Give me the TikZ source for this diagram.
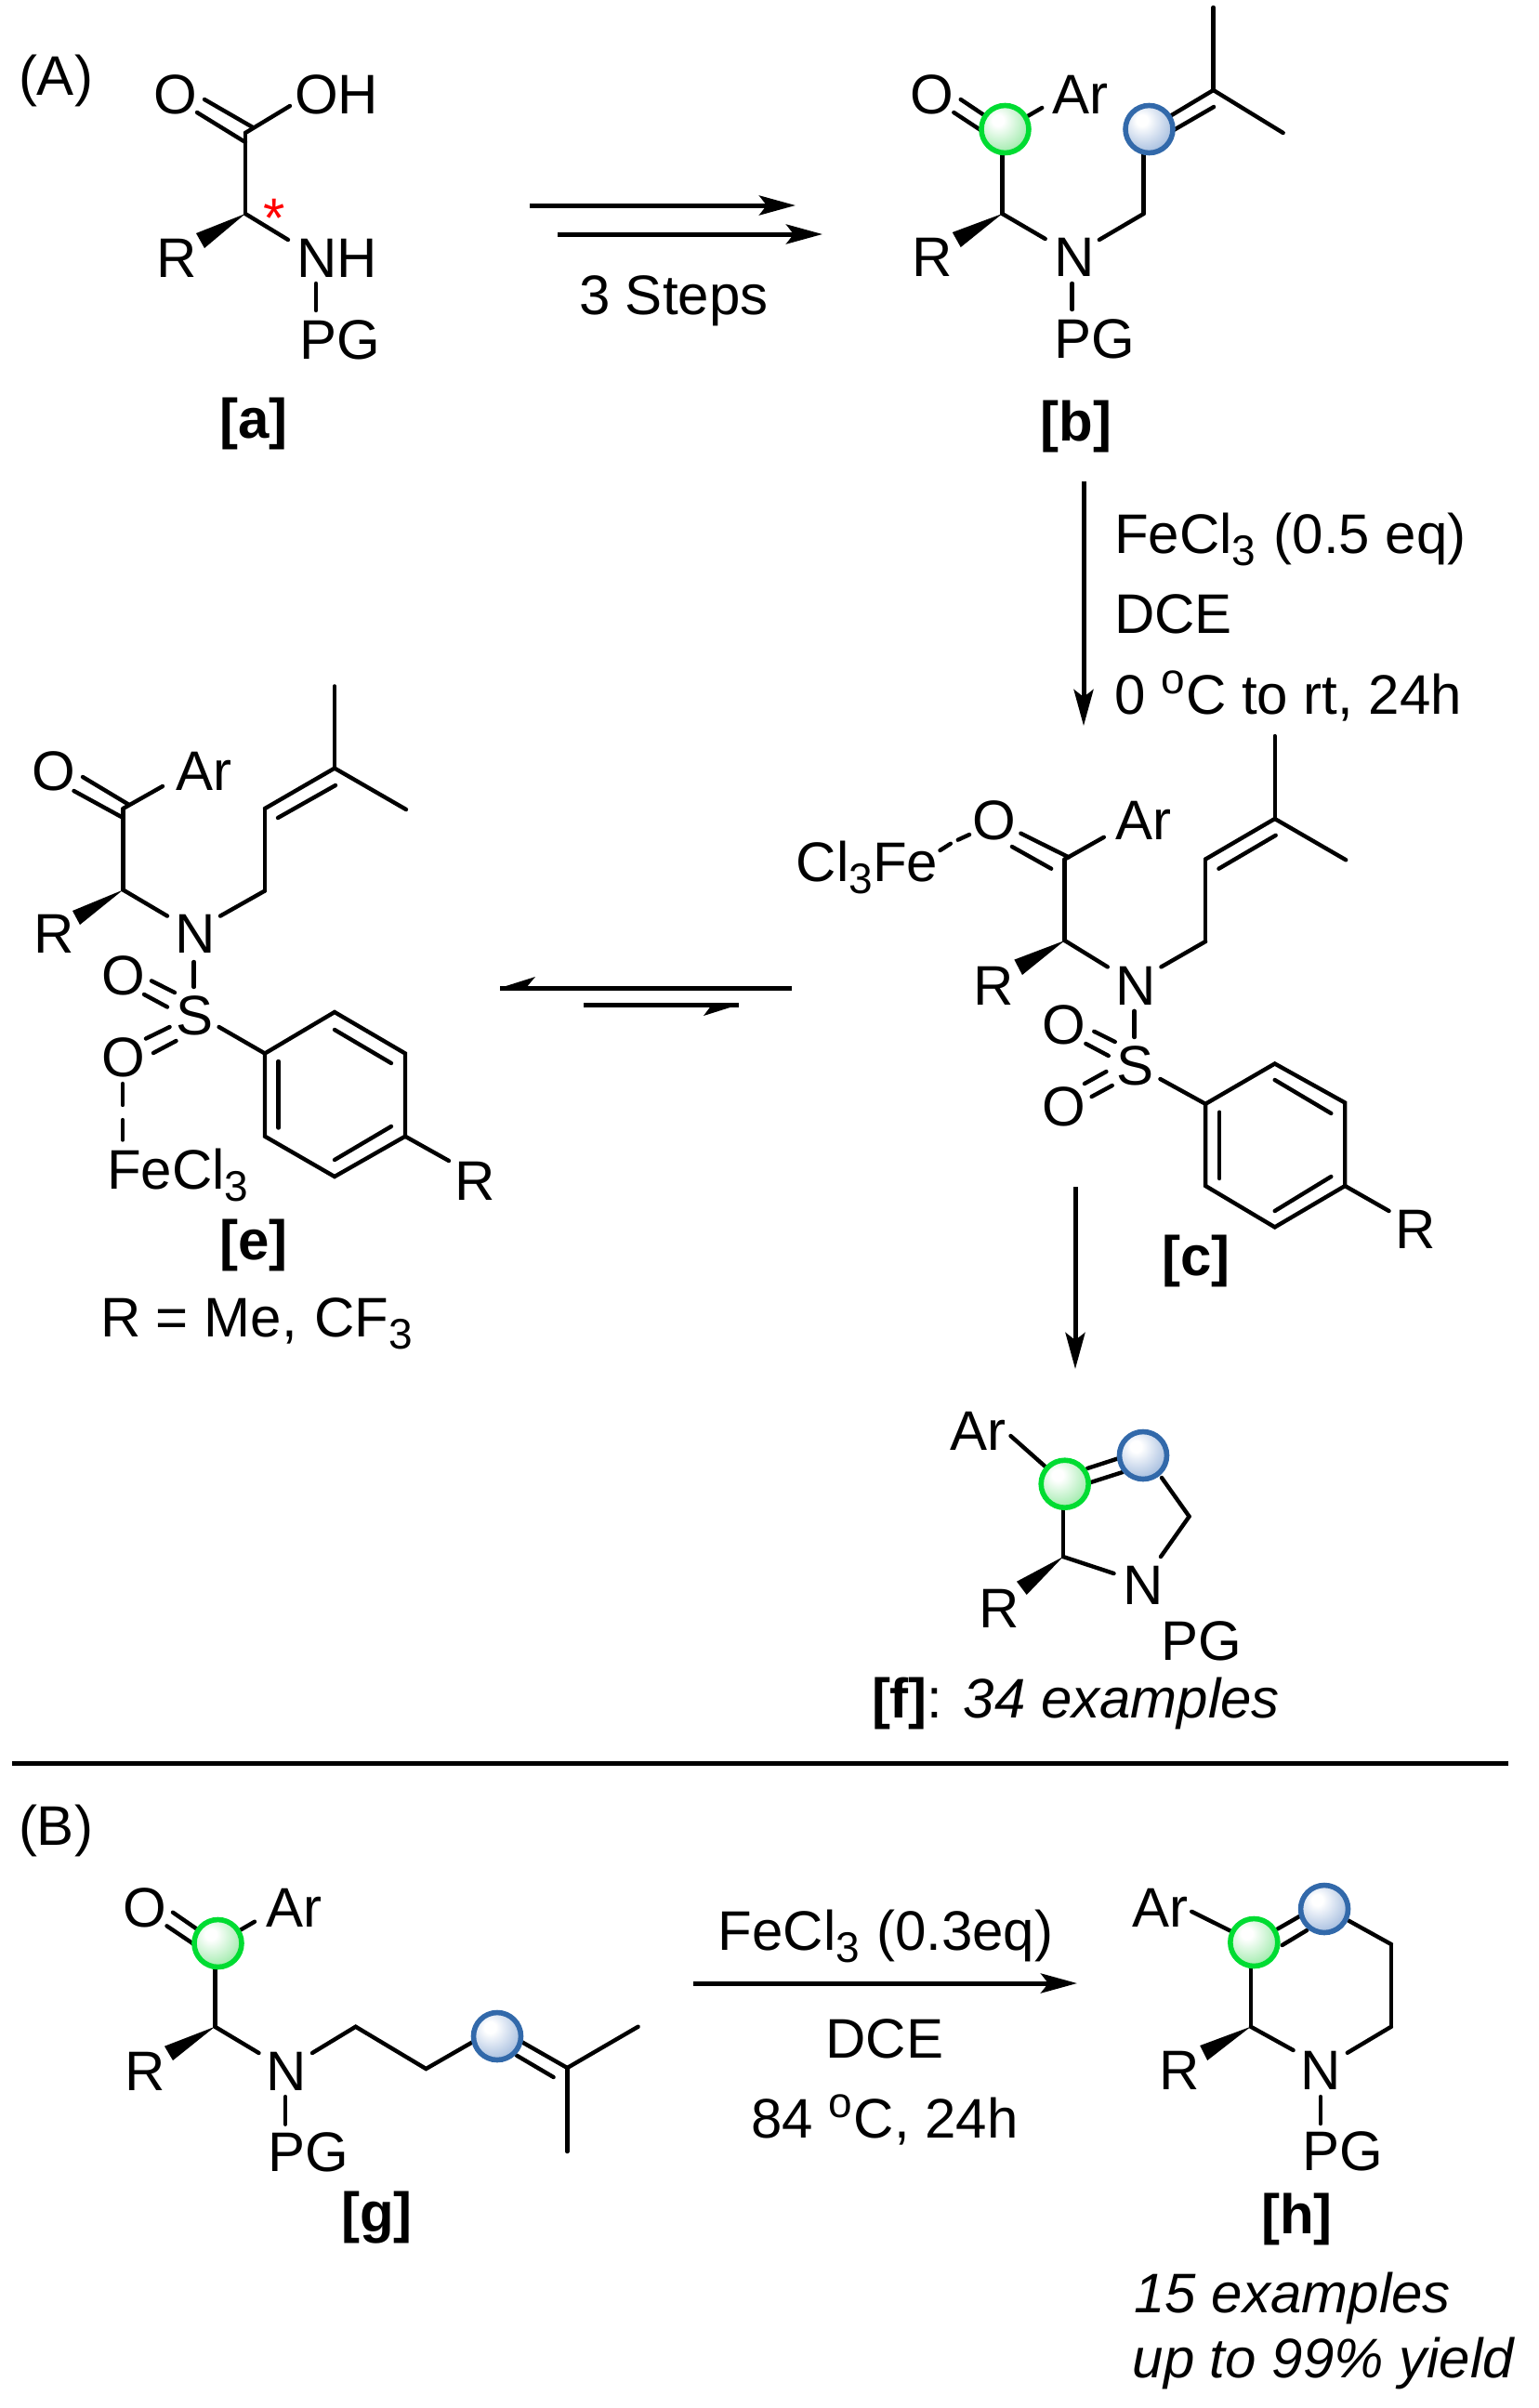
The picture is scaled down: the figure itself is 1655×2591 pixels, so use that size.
\documentclass[tikz,border=0pt]{standalone}
\usepackage{fontspec}
\setmainfont{Liberation Sans}
\usetikzlibrary{arrows.meta}
\definecolor{gbin}{RGB}{175,238,185}
\definecolor{gbmid}{RGB}{40,215,80}
\definecolor{bbin}{RGB}{180,200,228}
\definecolor{bbmid}{RGB}{70,120,185}
\definecolor{gbedge}{RGB}{0,220,50}
\definecolor{bbedge}{RGB}{50,105,170}
\pgfdeclareradialshading{greenball}{\pgfpoint{-8bp}{10bp}}{
  color(0bp)=(white); color(6bp)=(white); color(28bp)=(gbin); color(58bp)=(gbmid); color(100bp)=(gbmid)}
\pgfdeclareradialshading{blueball}{\pgfpoint{-8bp}{10bp}}{
  color(0bp)=(white); color(6bp)=(white); color(28bp)=(bbin); color(58bp)=(bbmid); color(100bp)=(bbmid)}
\newcommand{\sbs}[1]{\raisebox{-6.5pt}{\fontsize{23}{23}\selectfont #1}}
\newcommand{\dgr}{\raisebox{11pt}{\fontsize{23}{23}\selectfont o}}
\newcommand{\T}[4]{\node[atom] (#1) at (#2,#3) {#4};}
\newcommand{\Tc}[4]{\node[atomc] (#1) at (#2,#3) {#4};}
\newcommand{\B}[2]{\draw[bond] #1 -- #2;}
\newcommand{\W}[3]{\fill #1 -- #2 -- #3 -- cycle;}
\tikzset{
  atom/.style={anchor=base west,inner sep=0pt,outer sep=0pt,font=\fontsize{30}{36}\selectfont},
  atomc/.style={anchor=base,inner sep=0pt,outer sep=0pt,font=\fontsize{30}{36}\selectfont},
  bond/.style={line width=2.2pt,line cap=round,line join=miter},
  rxn/.style={line width=2.5pt,-{Stealth[length=19.5pt,width=10.5pt,inset=4pt]}},
  heq/.style={line width=2.5pt},
  gball/.style={circle,inner sep=0pt,minimum size=25.5pt,line width=2.8pt,draw=gbedge,shade,shading=greenball},
  bball/.style={circle,inner sep=0pt,minimum size=25.5pt,line width=2.8pt,draw=bbedge,shade,shading=blueball},
  rightpart/.style={xshift=2.52pt,xscale=.99392},
}
\begin{document}
\begin{tikzpicture}[x=.5pt,y=-.5pt]
\useasboundingbox (0,0) rectangle (1655,2591);
% ---------- labels (A) (B)
\T{labA}{20}{102}{(A)}
\T{labB}{20}{1985}{(B)}
% ---------- a
\B{(264,230)}{(264,143)}
\B{(264,143)}{(312,114)}
\B{(220,107)}{(272,137)}
\B{(212,121)}{(264,153)}
\B{(264,230)}{(310,258)}
\W{(264,230)}{(211,251)}{(220,267)}
\B{(340,305)}{(340,334)}
\T{aO}{165}{122}{O}
\T{aOH}{317}{122}{OH}
\T{aNH}{319}{298}{NH}
\T{aR}{168}{298}{R}
\T{aPG}{322}{386}{PG}
\Tc{aTag}{273}{471}{\bfseries [a]}
\node[atomc,text=red] (aStar) at (295,255) {*};
% arrows a -> b
\coordinate (r1s) at (570,221); \coordinate (r1e) at (856,221);
\coordinate (r2s) at (600,252); \coordinate (r2e) at (885,252);
\draw[rxn] (r1s) -- (r1e);
\draw[rxn] (r2s) -- (r2e);
\T{steps}{623}{338}{3 Steps}
% ---------- b
\begin{scope}[rightpart]
\B{(1035,107)}{(1083,139)}
\B{(1027.5,121)}{(1075,152)}
\B{(1123,116)}{(1083,139)}
\B{(1080,140)}{(1080,230)}
\B{(1080,230)}{(1126.5,257)}
\W{(1080,230)}{(1026,250)}{(1035,266)}
\B{(1185,258)}{(1233,230)}
\B{(1233,230)}{(1233,140)}
\B{(1233,142)}{(1308.5,97)}
\B{(1309,115)}{(1262,142)}
\B{(1308.5,97)}{(1308.5,8)}
\B{(1308.5,97)}{(1384,143)}
\B{(1155.6,305)}{(1155.6,333)}
\T{bO}{980}{122}{O}
\T{bAr}{1134}{122}{Ar}
\T{bN}{1136}{297}{N}
\T{bR}{982}{297}{R}
\T{bPG}{1136}{385}{PG}
\Tc{bTag}{1160}{474}{\bfseries [b]}
\node[gball] (bG) at (1083,139) {};
\node[bball] (bB) at (1239,139) {};
\end{scope}
% arrow b -> c and conditions
\coordinate (r3s) at (1166,518); \coordinate (r3e) at (1166,781);
\draw[rxn] (r3s) -- (r3e);
\T{cond1}{1199}{595}{FeCl\sbs{3}\kern1.5pt{} (0.5 eq)}
\T{cond2}{1199}{681}{DCE}
\T{cond3}{1199}{768}{0 \dgr\kern.8pt C to rt, 24h}
% ---------- c
\begin{scope}[rightpart]
\T{cFe}{857}{948.6}{Cl\sbs{3}Fe}
\T{cO}{1048}{903.7}{O}
\T{cAr}{1203}{903.7}{Ar}
\draw[bond] (1012.6,915) -- (1024,907.8);
\draw[bond] (1032,903.7) -- (1044.4,898);
\B{(1100,896.7)}{(1152,922.4)}
\B{(1090.5,911)}{(1133,934.7)}
\B{(1147.6,924.5)}{(1190,900.8)}
\B{(1147.6,924.5)}{(1147.6,1012)}
\W{(1147.6,1012)}{(1093,1032.6)}{(1101.6,1049)}
\B{(1147.6,1012)}{(1194,1040.4)}
\T{cN}{1203}{1081}{N}
\T{cR}{1049}{1081}{R}
\B{(1252,1040.4)}{(1300,1013)}
\B{(1300,1013)}{(1300,924.5)}
\B{(1300,924.5)}{(1375,881)}
\B{(1314.4,934.7)}{(1376,898.8)}
\B{(1375,881)}{(1375,792)}
\B{(1375,881)}{(1452,925.3)}
\B{(1223,1087.8)}{(1223,1116)}
\T{cS}{1204}{1167.3}{S}
\T{cO1}{1123.5}{1123}{O}
\T{cO2}{1123.5}{1211}{O}
\B{(1179.4,1109.8)}{(1202,1121)}
\B{(1170.4,1123)}{(1195,1136)}
\B{(1169,1166)}{(1192.6,1153)}
\B{(1176.7,1180)}{(1199,1168)}
\B{(1251,1161)}{(1300,1187.8)}
\draw[bond] (1300,1187.8) -- (1375,1144.5) -- (1451,1186.5) -- (1451,1276) -- (1375,1320.4) -- (1300,1276) -- cycle;
\B{(1315,1196.7)}{(1315,1268)}
\B{(1375,1162)}{(1436,1198)}
\B{(1375,1303)}{(1436,1266)}
\B{(1451,1276)}{(1498.6,1303)}
\T{cRb}{1506}{1343.7}{R}
\Tc{cTag}{1290}{1372}{\bfseries [c]}
\end{scope}
% equilibrium
\coordinate (eqAs) at (852,1063); \coordinate (eqAe) at (538,1063);
\coordinate (eqBs) at (628,1081); \coordinate (eqBe) at (795,1081);
\draw[heq] (eqAs) -- (eqAe);
\fill (eqAe) -- (576,1051) -- (566,1063) -- cycle;
\draw[heq] (eqBs) -- (eqBe);
\fill (eqBe) -- (757,1093) -- (766,1081) -- cycle;
% ---------- e
\T{eO}{34}{850}{O}
\T{eAr}{189}{850}{Ar}
\B{(89,836)}{(139,866)}
\B{(79.5,851)}{(132.5,880)}
\B{(132.5,870)}{(175,846)}
\B{(132.5,870)}{(132.5,957.5)}
\W{(132.5,957.5)}{(78,980)}{(86,995)}
\B{(132.5,957.5)}{(180,985.6)}
\T{eN}{188}{1025}{N}
\T{eR}{36}{1025}{R}
\B{(237,985.6)}{(285,958.5)}
\B{(285,958.5)}{(285,870)}
\B{(285,870)}{(360,826.6)}
\B{(299,880)}{(361,845)}
\B{(360,826.6)}{(360,738.4)}
\B{(360,826.6)}{(437,871)}
\B{(208.6,1035)}{(208.6,1062)}
\T{eS}{189}{1113.6}{S}
\T{eO1}{109}{1070}{O}
\T{eO2}{109}{1158.7}{O}
\B{(163,1055.4)}{(188,1068)}
\B{(155,1070)}{(180,1083.5)}
\B{(157,1117.5)}{(182.6,1105)}
\B{(165,1133)}{(189.5,1120)}
\B{(235.6,1105)}{(285,1133.5)}
\draw[bond] (285,1133.5) -- (360,1089) -- (436,1133.5) -- (436,1222.7) -- (360,1266) -- (285,1222.7) -- cycle;
\B{(299.6,1142)}{(299.6,1213.5)}
\B{(360,1108)}{(421,1144)}
\B{(360,1248)}{(421,1212)}
\B{(436,1222.7)}{(483,1249)}
\T{eRb}{489}{1291}{R}
\T{eFe}{115}{1279}{FeCl\sbs{3}}
\draw[bond] (132,1166) -- (132,1189);
\draw[bond] (132,1205) -- (132,1226.5);
\Tc{eTag}{273}{1355}{\bfseries [e]}
\T{eDef}{108}{1438}{R = Me, \kern1pt CF\sbs{3}}
% arrow c -> f
\coordinate (r4s) at (1157,1277); \coordinate (r4e) at (1157,1473);
\draw[rxn] (r4s) -- (r4e);
% ---------- f
\T{fAr}{1022}{1560.7}{Ar}
\B{(1087.5,1545)}{(1145,1596)}
\B{(1144,1600)}{(1144,1675)}
\B{(1170,1580)}{(1204,1569)}
\B{(1173.6,1595)}{(1208,1584)}
\B{(1250,1590)}{(1279.6,1631.7)}
\B{(1279.6,1631.7)}{(1249,1675)}
\W{(1144,1675)}{(1094,1701.7)}{(1104.7,1716)}
\B{(1144,1675)}{(1198.5,1693)}
\T{fN}{1208}{1726.7}{N}
\T{fR}{1053}{1751}{R}
\T{fPG}{1249}{1786.7}{PG}
\node[gball] (fG) at (1145.7,1596.7) {};
\node[bball] (fB) at (1230,1566) {};
\node[atom] (fTag) at (938,1848) {\textbf{[f]}: \textit{34 examples}};
% rule
\coordinate (ruleL) at (13,1897); \coordinate (ruleR) at (1623,1897);
\draw[line width=2.5pt] (ruleL) -- (ruleR);
% ---------- g
\T{gO}{132}{2073}{O}
\T{gAr}{286}{2073}{Ar}
\B{(186,2057.7)}{(234,2091)}
\B{(179.5,2072.3)}{(228,2105)}
\B{(274,2067.7)}{(234,2091)}
\B{(231.3,2094)}{(231.3,2180.7)}
\W{(231.3,2180.7)}{(177,2201.7)}{(186,2217)}
\B{(231.3,2180.7)}{(278.5,2209)}
\T{gN}{286}{2249}{N}
\T{gR}{134.5}{2249}{R}
\T{gPG}{288.5}{2336.7}{PG}
\B{(307,2256)}{(307,2285.7)}
\draw[bond] (336,2209) -- (382.7,2180.7) -- (458.4,2226) -- (535,2182) -- (610.4,2225);
\B{(556,2211.7)}{(595.6,2235)}
\B{(610.4,2225)}{(686.6,2180.7)}
\B{(610.4,2225)}{(610.4,2315)}
\node[gball] (gG) at (234.5,2091) {};
\node[bball] (gB) at (535,2191) {};
\Tc{gTag}{405.5}{2401.7}{\bfseries [g]}
% arrow g -> h
\coordinate (r5s) at (746,2134); \coordinate (r5e) at (1159,2134);
\draw[rxn] (r5s) -- (r5e);
\Tc{cond4}{953}{2098}{FeCl\sbs{3}\kern.8pt{} (0.3eq)}
\Tc{cond5}{952}{2214}{DCE}
\Tc{cond6}{952}{2300}{84 \dgr\kern.8pt C, 24h}
% ---------- h
\begin{scope}[rightpart]
\T{hAr}{1221}{2073.5}{Ar}
\B{(1285,2056.8)}{(1352,2090)}
\B{(1349,2090)}{(1349,2180.7)}
\B{(1378,2075.5)}{(1401.7,2062)}
\B{(1383,2093)}{(1409.7,2077)}
\B{(1454.7,2066.5)}{(1501,2092)}
\B{(1501,2092)}{(1501,2180.7)}
\B{(1501,2180.7)}{(1453.6,2208.8)}
\W{(1349,2180.7)}{(1294,2201)}{(1302,2217)}
\B{(1349,2180.7)}{(1395,2206)}
\T{hN}{1403}{2248}{N}
\T{hR}{1250}{2248}{R}
\B{(1424.5,2256)}{(1424.5,2285)}
\T{hPG}{1404.5}{2335}{PG}
\node[gball] (hG) at (1352.5,2090) {};
\node[bball] (hB) at (1428.7,2054) {};
\Tc{hTag}{1399}{2403}{\bfseries [h]}
\T{hEx}{1223}{2488.6}{\itshape 15 examples}
\T{hYi}{1221}{2558.7}{\itshape up to 99\% yield}
\end{scope}
\end{tikzpicture}
\end{document}
